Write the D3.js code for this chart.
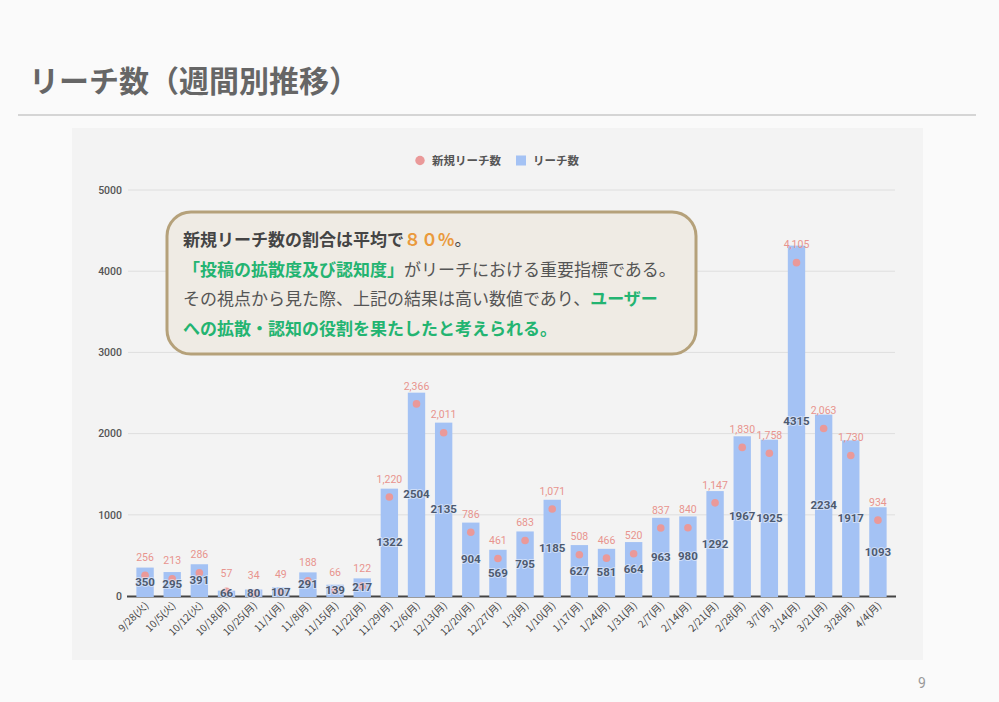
<!DOCTYPE html>
<html><head><meta charset="utf-8">
<script src="https://cdn.jsdelivr.net/npm/d3@7"></script>
<style>
html,body{margin:0;padding:0;background:#fafafa;}
svg{display:block;font-family:"Noto Sans CJK JP","Noto Sans",sans-serif;}
</style></head>
<body>
<svg id="c" width="999" height="702"></svg>
<script>
const categories = ["9/28(火)","10/5(火)","10/12(火)","10/18(月)","10/25(月)","11/1(月)","11/8(月)","11/15(月)","11/22(月)","11/29(月)","12/6(月)","12/13(月)","12/20(月)","12/27(月)","1/3(月)","1/10(月)","1/17(月)","1/24(月)","1/31(月)","2/7(月)","2/14(月)","2/21(月)","2/28(月)","3/7(月)","3/14(月)","3/21(月)","3/28(月)","4/4(月)"];
const reach = [350,295,391,66,80,107,291,139,217,1322,2504,2135,904,569,795,1185,627,581,664,963,980,1292,1967,1925,4315,2234,1917,1093];
const newReach = [256,213,286,57,34,49,188,66,122,1220,2366,2011,786,461,683,1071,508,466,520,837,840,1147,1830,1758,4105,2063,1730,934];
const yTicks = [0,1000,2000,3000,4000,5000];
const seriesNames = ["新規リーチ数","リーチ数"];

const svg = d3.select("#c");
const FONT = '"Noto Sans CJK JP","Noto Sans",sans-serif';

// Title
svg.append("text").attr("x",29).attr("y",92).attr("font-size",30).attr("font-weight",700)
  .attr("fill","#666").text("リーチ数（週間別推移）");
svg.append("line").attr("x1",18).attr("x2",976).attr("y1",115).attr("y2",115)
  .attr("stroke","#b0b0b0").attr("stroke-width",1);
// Page number
svg.append("text").attr("x",922).attr("y",688).attr("font-size",14).attr("fill","#999")
  .attr("font-family","Roboto, sans-serif").attr("text-anchor","middle").text("9");

// Chart panel
svg.append("rect").attr("x",72).attr("y",128).attr("width",851).attr("height",532).attr("fill","#f3f3f3");

const x = d3.scaleBand().domain(categories).range([131.5,891.5]).paddingInner(0.36).paddingOuter(0.18);
const y = d3.scaleLinear().domain([0,5000]).range([596,190]);

// grid
svg.append("g").selectAll("line").data(yTicks.filter(d=>d>0)).join("line")
  .attr("x1",128).attr("x2",895).attr("y1",d=>y(d)).attr("y2",d=>y(d))
  .attr("stroke","#dedede").attr("stroke-width",1);
// y axis labels
const yAxis = d3.axisLeft(y).tickValues(yTicks).tickSize(0).tickPadding(0).tickFormat(d3.format("d"));
const ya = svg.append("g").attr("transform","translate(122,0)").call(yAxis);
ya.select(".domain").remove();
ya.selectAll("text").attr("font-size",10.5).attr("font-weight",500).attr("fill","#555")
  .attr("font-family","Roboto, sans-serif").attr("dy","0.32em");

// baseline (under bars)
svg.append("line").attr("x1",127).attr("x2",896).attr("y1",y(0)+0.5).attr("y2",y(0)+0.5)
  .attr("stroke","#444").attr("stroke-width",2);

// bars
const bw = x.bandwidth();
svg.append("g").selectAll("rect").data(reach).join("rect")
  .attr("x",(d,i)=>x(categories[i])).attr("width",bw)
  .attr("y",d=>y(d)).attr("height",d=>y(0)-y(d)+1).attr("fill","#a4c2f4");

// x axis labels
const xAxis = d3.axisBottom(x).tickSize(0).tickPadding(0);
const xa = svg.append("g").attr("transform",`translate(0,${y(0)})`).call(xAxis);
xa.select(".domain").remove();
xa.selectAll("text").attr("font-size",10).attr("fill","#444").attr("font-family",FONT)
  .attr("text-anchor","end").attr("dy",0)
  .attr("transform","translate(4,10) rotate(-45)");

// dots
svg.append("g").selectAll("circle").data(newReach).join("circle")
  .attr("cx",(d,i)=>x(categories[i])+bw/2).attr("cy",d=>y(d)).attr("r",3.8).attr("fill","#ea9999");
// new reach labels
const fmt = d3.format(",");
svg.append("g").selectAll("text").data(newReach).join("text")
  .attr("x",(d,i)=>x(categories[i])+bw/2).attr("y",d=>y(d)-18)
  .attr("dy","0.35em").attr("text-anchor","middle")
  .attr("font-size",10.5).attr("font-family","Roboto, sans-serif")
  .attr("fill","#e8948e").text(d=>fmt(d));

// bar labels (centered, drawn over dots)
svg.append("g").selectAll("text").data(reach).join("text")
  .attr("x",(d,i)=>x(categories[i])+bw/2).attr("y",d=>(y(d)+y(0))/2)
  .attr("dy","0.35em").attr("text-anchor","middle")
  .attr("font-size",11.5).attr("font-weight",700).attr("font-family","Roboto, sans-serif")
  .attr("fill","#4d5a70").attr("stroke","rgba(235,240,250,0.6)").attr("stroke-width",2)
  .attr("paint-order","stroke").text(d=>d);

// legend
const lg = svg.append("g");
lg.append("circle").attr("cx",420).attr("cy",160.5).attr("r",4.7).attr("fill","#ea9999");
lg.append("text").attr("x",432).attr("y",160.5).attr("dy","0.35em").attr("font-size",11.5)
  .attr("font-weight",700).attr("fill","#555").text(seriesNames[0]);
lg.append("rect").attr("x",516).attr("y",155.5).attr("width",10).attr("height",10).attr("fill","#a4c2f4");
lg.append("text").attr("x",533).attr("y",160.5).attr("dy","0.35em").attr("font-size",11.5)
  .attr("font-weight",700).attr("fill","#555").text(seriesNames[1]);

// callout
const cb = svg.append("g");
cb.append("rect").attr("x",167).attr("y",212).attr("width",529).attr("height",142).attr("rx",24)
  .attr("fill","#efebe4").attr("stroke","#b5a17a").attr("stroke-width",3);
const lines = [
  [["新規リーチ数の割合は平均で","#444",700],["８０%","#ea9a3c",700],["。","#444",400]],
  [["「投稿の拡散度及び認知度」","#23b471",700],["がリーチにおける重要指標である。","#555",400]],
  [["その視点から見た際、上記の結果は高い数値であり、","#555",400],["ユーザー","#23b471",700]],
  [["への拡散・認知の役割を果たしたと考えられる。","#23b471",700]]
];
lines.forEach((ln,i)=>{
  const t = cb.append("text").attr("x",183).attr("y",240+i*29.7).attr("dy","0.35em")
    .attr("font-size",17);
  ln.forEach(s=>t.append("tspan").attr("fill",s[1]).attr("font-weight",s[2]).text(s[0]));
});
</script>
</body></html>
